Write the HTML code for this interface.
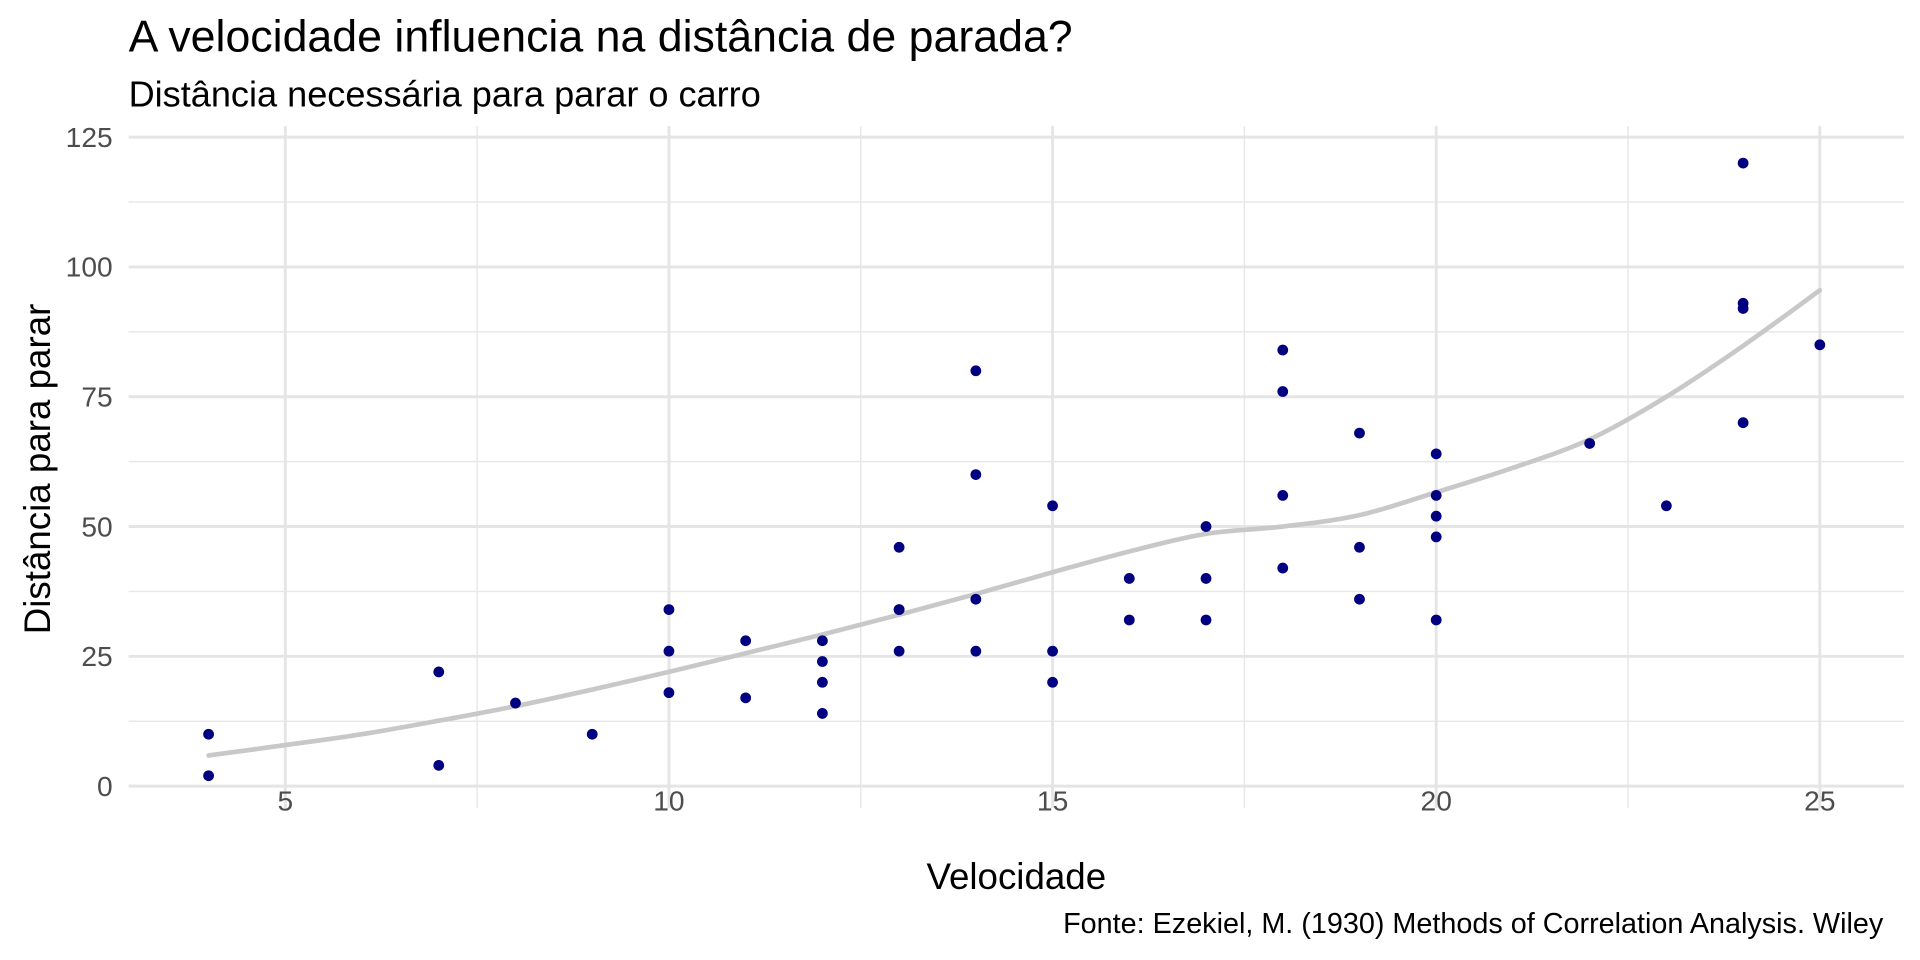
<!DOCTYPE html>
<html><head><meta charset="utf-8"><style>
html,body{margin:0;padding:0;background:#fff;overflow:hidden}
svg{display:block}
text{font-family:"Liberation Sans",Arial,sans-serif}
</style></head><body>
<svg id="s" width="1920" height="960" viewBox="0 0 1568 784" xmlns="http://www.w3.org/2000/svg">
<rect width="1568" height="784" fill="#fff"/>
<g id="grid"></g>
<path id="loess" fill="none" stroke="#c8c8c8" stroke-width="3.8" stroke-linecap="round"/>
<g id="pts" fill="#000080"></g>
<g id="labels" fill="#4d4d4d" font-size="23"></g>
<text x="105" y="42" font-size="36.5" fill="#000">A velocidade influencia na distância de parada?</text>
<text x="105" y="87" font-size="29.5" fill="#000">Distância necessária para parar o carro</text>
<text x="830" y="726" font-size="30" text-anchor="middle" fill="#000">Velocidade</text>
<text transform="translate(41,383) rotate(-90)" font-size="30" text-anchor="middle" fill="#000">Distância para parar</text>
<text x="1538" y="762" font-size="23.5" text-anchor="end" fill="#000">Fonte: Ezekiel, M. (1930) Methods of Correlation Analysis. Wiley</text>
</svg>
<script>
var X=function(v){return 233+(v-5)*62.66},Y=function(d){return 642-4.24*d};
var g=document.getElementById('grid'),L=document.getElementById('labels'),P=document.getElementById('pts');
var h='';
[7.5,12.5,17.5,22.5].forEach(function(v){h+='<line x1="'+X(v)+'" x2="'+X(v)+'" y1="103" y2="660" stroke="#e8e8e8" stroke-width="1.2"/>'});
[12.5,37.5,62.5,87.5,112.5].forEach(function(d){h+='<line x1="105" x2="1555" y1="'+Y(d)+'" y2="'+Y(d)+'" stroke="#e8e8e8" stroke-width="1.2"/>'});
[5,10,15,20,25].forEach(function(v){h+='<line x1="'+X(v)+'" x2="'+X(v)+'" y1="103" y2="660" stroke="#e5e5e5" stroke-width="2.4"/>'});
[0,25,50,75,100,125].forEach(function(d){h+='<line x1="105" x2="1555" y1="'+Y(d)+'" y2="'+Y(d)+'" stroke="#e5e5e5" stroke-width="2.4"/>'});
g.innerHTML=h;
h='';
[5,10,15,20,25].forEach(function(v){h+='<text x="'+X(v)+'" y="662" text-anchor="middle">'+v+'</text>'});
[0,25,50,75,100,125].forEach(function(d){h+='<text x="92" y="'+(Y(d)+8)+'" text-anchor="end">'+d+'</text>'});
L.innerHTML=h;
var c=[[4,2],[4,10],[7,4],[7,22],[8,16],[9,10],[10,18],[10,26],[10,34],[11,17],[11,28],[12,14],[12,20],[12,24],[12,28],[13,26],[13,34],[13,34],[13,46],[14,26],[14,36],[14,60],[14,80],[15,20],[15,26],[15,54],[16,32],[16,40],[17,32],[17,40],[17,50],[18,42],[18,56],[18,76],[18,84],[19,36],[19,46],[19,68],[20,32],[20,48],[20,52],[20,56],[20,64],[22,66],[23,54],[24,70],[24,92],[24,93],[24,120],[25,85]];
h='';c.forEach(function(p){h+='<circle cx="'+X(p[0])+'" cy="'+Y(p[1])+'" r="4.4"/>'});P.innerHTML=h;
var k=[[4,5.9],[5,7.9],[6,10],[7,12.6],[8,15.4],[9,18.6],[10,22],[11,25.6],[12,29.2],[13,33],[14,37],[15,41.2],[16,45.2],[17,48.6],[18,50],[19,52.2],[20,56.6],[21,61.3],[22,66.8],[23,75],[24,84.8],[25,95.5]];
var d='M'+X(k[0][0])+','+Y(k[0][1]);
for(var i=1;i<k.length;i++){var p0=k[Math.max(i-2,0)],p1=k[i-1],p2=k[i],p3=k[Math.min(i+1,k.length-1)];
var c1x=X(p1[0])+(X(p2[0])-X(p0[0]))/6,c1y=Y(p1[1])+(Y(p2[1])-Y(p0[1]))/6,c2x=X(p2[0])-(X(p3[0])-X(p1[0]))/6,c2y=Y(p2[1])-(Y(p3[1])-Y(p1[1]))/6;
d+=' C'+c1x+','+c1y+' '+c2x+','+c2y+' '+X(p2[0])+','+Y(p2[1]);}
document.getElementById('loess').setAttribute('d',d);
</script>
</body></html>
